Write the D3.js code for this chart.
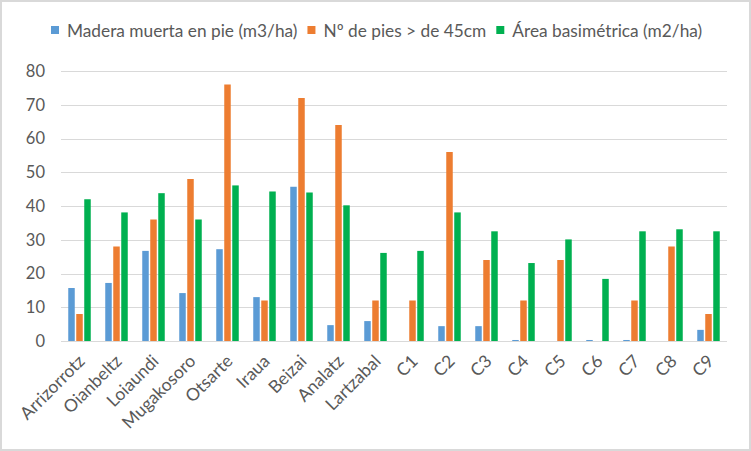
<!DOCTYPE html>
<html lang="es">
<head>
    <meta charset="UTF-8">
    <script src="https://cdn.jsdelivr.net/npm/d3@7"></script>
    <style>
        body{ margin:0; background:#fff; }
        svg text{
            font-family:Lato, "Open Sans", sans-serif;
            fill:#595959;
        }
    </style>
    <title>Madera muerta</title>
</head>
<body>
    <script>
        var categories = ["Arrizorrotz","Oianbeltz","Loiaundi","Mugakosoro","Otsarte","Iraua","Beizai","Analatz","Lartzabal","C1","C2","C3","C4","C5","C6","C7","C8","C9"];
        var seriesNames = ["Madera muerta en pie (m3/ha)","Nº de pies > de 45cm","Área basimétrica (m2/ha)"];
        var madera = [15.7,17.2,26.7,14.2,27.2,13.0,45.7,4.7,5.9,0,4.4,4.4,0.3,0,0.3,0.3,0,3.3];
        var pies = [8,28,36,48,76,12,72,64,12,12,56,24,12,24,0,12,28,8];
        var area = [42,38.1,43.8,36,46.1,44.3,44,40.2,26.1,26.7,38.1,32.5,23.1,30.1,18.4,32.5,33.1,32.5];
        var yTicks = [0,10,20,30,40,50,60,70,80];
        var colors = ["#5B9BD5","#ED7D31","#00B050"];

        var series = [madera, pies, area];
        var W = 751, H = 451;
        var plotLeft = 61, plotRight = 727, plotTop = 71, plotBottom = 341;

        var svg = d3.select("body").append("svg")
            .attr("width",W).attr("height",H);

        svg.append("rect")
            .attr("x",1).attr("y",1)
            .attr("width",W-2).attr("height",H-2)
            .attr("fill","#fff")
            .attr("stroke","#d9d9d9")
            .attr("stroke-width",2);

        var x = d3.scaleBand().domain(categories).range([plotLeft,plotRight]);
        var y = d3.scaleLinear().domain([0,80]).range([plotBottom,plotTop]);
        var barW = 6.5, gap = 1.5;
        var xs = d3.scaleBand().domain([0,1,2]).range([0,3*barW+2*gap]).paddingInner(gap/(barW+gap));
        var groupOffset = (x.bandwidth()-(3*barW+2*gap))/2;

        // gridlines
        svg.append("g").selectAll("line")
            .data(yTicks)
            .enter().append("line")
            .attr("x1",plotLeft).attr("x2",plotRight)
            .attr("y1",function(d){ return Math.round(y(d))+0.5; })
            .attr("y2",function(d){ return Math.round(y(d))+0.5; })
            .attr("stroke","#d9d9d9").attr("stroke-width",1);

        // y labels
        svg.append("g").selectAll("text")
            .data(yTicks)
            .enter().append("text")
            .attr("x",45)
            .attr("y",function(d){ return y(d); })
            .attr("dy","0.35em")
            .attr("text-anchor","end")
            .style("font-size","16.5px")
            .text(function(d){ return d; });

        // bars
        var g = svg.selectAll("g.cat")
            .data(categories)
            .enter().append("g")
            .attr("class","cat")
            .attr("transform",function(d){ return "translate("+(x(d)+groupOffset)+",0)"; });

        g.selectAll("rect")
            .data(function(d,i){ return series.map(function(s,k){ return {k:k, v:s[i]}; }); })
            .enter().append("rect")
            .attr("x",function(d){ return xs(d.k); })
            .attr("width",xs.bandwidth())
            .attr("y",function(d){ return y(d.v); })
            .attr("height",function(d){ return y(0)-y(d.v); })
            .attr("fill",function(d){ return colors[d.k]; });

        // x labels
        svg.append("g").selectAll("text")
            .data(categories)
            .enter().append("text")
            .attr("transform",function(d){
                return "translate("+(x(d)+x.bandwidth()/2+2)+",358) rotate(-45)";
            })
            .attr("text-anchor","end")
            .attr("dy","0.35em")
            .style("font-size","17.5px")
            .text(function(d){ return d; });

        // legend
        var legend = svg.append("g");
        var lx = 51;
        seriesNames.forEach(function(name,k){
            legend.append("rect")
                .attr("x",lx).attr("y",26)
                .attr("width",8).attr("height",8)
                .attr("fill",colors[k]);
            var t = legend.append("text")
                .attr("x",lx+16).attr("y",31)
                .attr("dy","0.35em")
                .style("font-size","17.3px")
                .text(name);
            lx += 16 + t.node().getComputedTextLength() + 10;
        });
    </script>
</body>
</html>
